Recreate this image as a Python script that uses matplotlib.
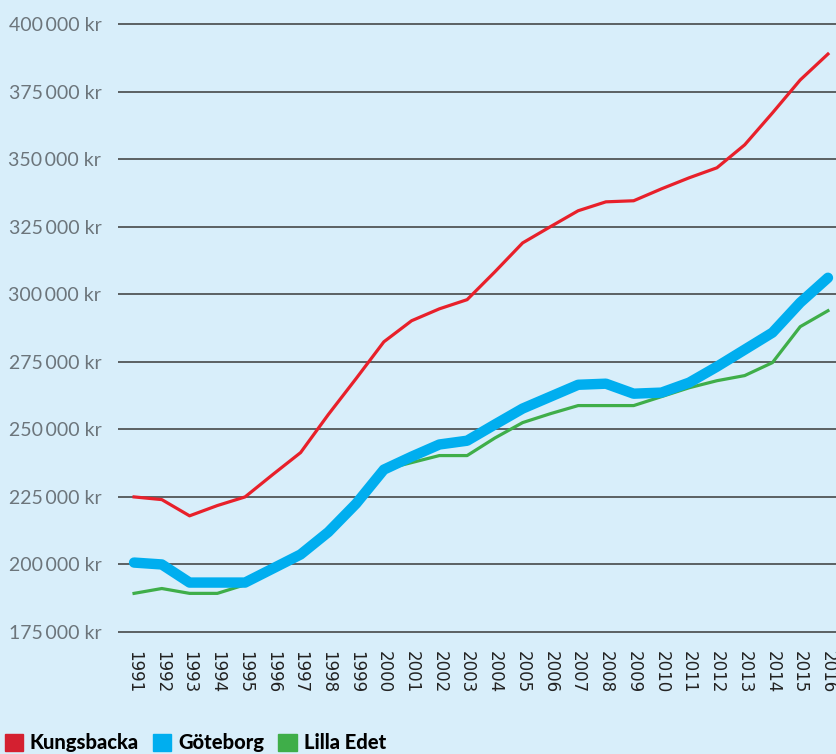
import matplotlib
matplotlib.use('Agg')
import matplotlib.pyplot as plt
from matplotlib.patches import Patch

years = list(range(1991, 2017))

kungsbacka = [225000, 224000, 218000, 221800, 225000, 233300, 241400, 255500, 268800, 282400,
              290200, 294600, 298000, 308300, 319000, 325000, 330900, 334200, 334600, 339000,
              343100, 346800, 355300, 367100, 379300, 388900]
goteborg = [200700, 200000, 193300, 193300, 193300, 198500, 203700, 212000, 222500, 235100,
            239900, 244400, 245800, 251800, 257700, 262100, 266500, 266900, 263200, 263600,
            267300, 273200, 279500, 285800, 296900, 306100]
lilla_edet = [189300, 191100, 189300, 189300, 192500, 198500, 203700, 211000, 223500, 235100,
              237700, 240300, 240300, 246800, 252500, 255800, 258800, 258800, 258800, 262100,
              265400, 268000, 269900, 274700, 288000, 293900]

yticks = [175000, 200000, 225000, 250000, 275000, 300000, 325000, 350000, 375000, 400000]
ylabels = ['{:,} kr'.format(v).replace(',', '\u2009') for v in yticks]

bg = '#d8eefa'
red = '#e8202a'
blue = '#00aeef'
green = '#3fae49'

fig = plt.figure(figsize=(8.36, 7.54), dpi=100, facecolor=bg)
ax = fig.add_axes([0.1411, 0.1582, 0.8589, 0.8135])
ax.set_facecolor(bg)

ax.plot(years, kungsbacka, color=red, lw=2.3, zorder=3)
ax.plot(years, lilla_edet, color=green, lw=2.3, zorder=3)
ax.plot(years, goteborg, color=blue, lw=7.5, solid_capstyle='round', zorder=4)

ax.set_xlim(1990.42, 2016.29)
ax.set_ylim(174000, 401000)
ax.set_yticks(yticks)
ax.set_yticklabels(ylabels, fontsize=14, color='#6c757b', family=['Lato', 'DejaVu Sans'])
ax.set_xticks(years)
ax.set_xticklabels([str(y) for y in years], rotation=270, fontsize=12, color='#222222',
                   family='DejaVu Sans')
ax.tick_params(axis='y', length=0, pad=12)
ax.tick_params(axis='x', length=0, pad=12)
ax.grid(axis='y', color='#3a3a3a', lw=1.1, zorder=1)
for s in ax.spines.values():
    s.set_visible(False)

handles = [Patch(color='#d42030', label='Kungsbacka'),
           Patch(color=blue, label='Göteborg'),
           Patch(color=green, label='Lilla Edet')]
fig.legend(handles=handles, loc='lower left', bbox_to_anchor=(-0.016, -0.022), ncol=3,
           frameon=False, handlelength=0.9, handleheight=0.9, handletextpad=0.35,
           columnspacing=0.7, prop={'family': 'Lato', 'weight': 'black', 'size': 14.5})

fig.savefig('out.png', dpi=100, facecolor=bg)
